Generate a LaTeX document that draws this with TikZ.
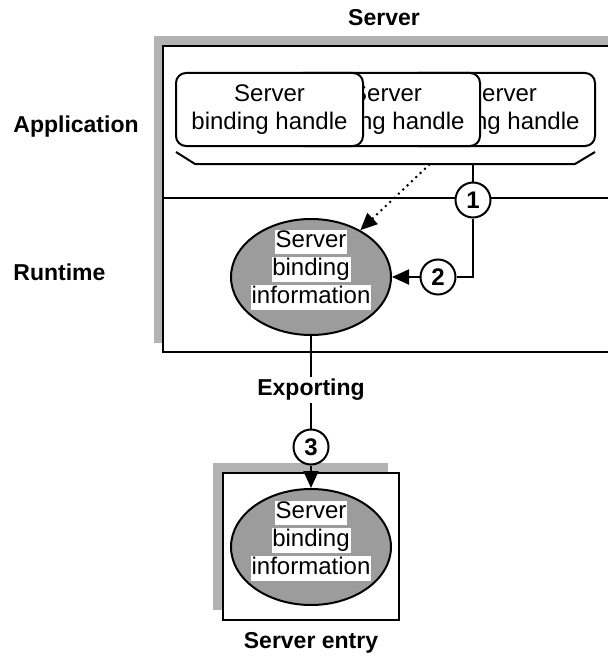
\documentclass[tikz,border=0pt]{standalone}
\usepackage{fontspec}
\setmainfont{Liberation Sans}
\usetikzlibrary{shapes.geometric,arrows.meta}
\definecolor{shadowgray}{HTML}{B3B3B3}
\definecolor{ellgray}{HTML}{9C9C9C}
\newcommand\wbx[1]{{\setlength{\fboxsep}{0.4pt}\colorbox{white}{\rule[-2.8pt]{0pt}{11.2pt}#1}}}
\begin{document}
\begin{tikzpicture}[x=0.5pt,y=-0.5pt,
  every node/.style={font=\fontsize{12}{14}\selectfont},
  line/.style={line width=1pt},
  lbl/.style={font=\fontsize{11.5}{14}\selectfont\bfseries},
  handle/.style={draw,line width=1pt,fill=white,rounded corners=5pt,minimum width=93.5pt,minimum height=36.5pt,align=center,inner sep=0pt},
  info/.style={ellipse,draw,line width=1pt,fill=ellgray,minimum width=80pt,minimum height=58pt,inner sep=0pt},
  num/.style={circle,draw,line width=1pt,fill=white,minimum size=17.5pt,inner sep=0pt,font=\fontsize{12}{14}\selectfont\bfseries},
  arr/.style={-{Triangle[length=8.5pt,width=7.5pt]}}]
\useasboundingbox (0,0) rectangle (608,658);
\clip (0,0) rectangle (608,658);
% server box
\fill[shadowgray] (154,36) rectangle (640,343);
\draw[line,fill=white] (163,46) rectangle (640,352);
\draw[line] (163,198) -- (640,198);
% handles
\node[handle] (h3) at (501.5,109.5) {Server\\binding handle};
\node[handle] (h2) at (386.5,109.5) {Server\\binding handle};
\node[handle] (h1) at (269.5,109.5) {Server\\binding handle};
% brace
\coordinate (bl) at (176,152);
\coordinate (br) at (595,152);
\coordinate (bdot) at (430,164);
\coordinate (bout) at (473,164);
\draw[line] (bl) -- (195,164) -- (575,164) -- (br);
% labels
\node[lbl] (title) at (384,18) {Server};
\node[lbl,anchor=west,inner sep=0pt] (app) at (13,127) {Application};
\node[lbl,anchor=west,inner sep=0pt] (rt) at (13,272) {Runtime};
% runtime ellipse
\node[info] (e1) at (311,277) {};
\node[align=center] (t1) at (311,270) {\wbx{Server}\\\wbx{binding}\\\wbx{information}};
% numbered circles
\node[num] (c1) at (473,200) {1};
\node[num] (c2) at (438,277) {2};
\draw[line] (bout) -- (c1);
\draw[line] (c1) |- (c2);
\draw[line,arr] (c2) -- (e1);
\draw[line,dotted,arr] (bdot) -- (e1);
% server entry
\fill[shadowgray] (213,463) rectangle (388,610);
\draw[line,fill=white] (223,473) rectangle (399,620);
\node[info] (e2) at (311,547) {};
\node[align=center] (t2) at (311,541) {\wbx{Server}\\\wbx{binding}\\\wbx{information}};
\node[num] (c3) at (311,447) {3};
\draw[line] (e1) -- (c3);
\node[lbl,fill=white,inner sep=1pt] (exp) at (311,390) {Exporting};
\draw[line,arr] (c3) -- (e2);
\node[lbl] (entry) at (311,643) {Server entry};
\end{tikzpicture}
\end{document}
